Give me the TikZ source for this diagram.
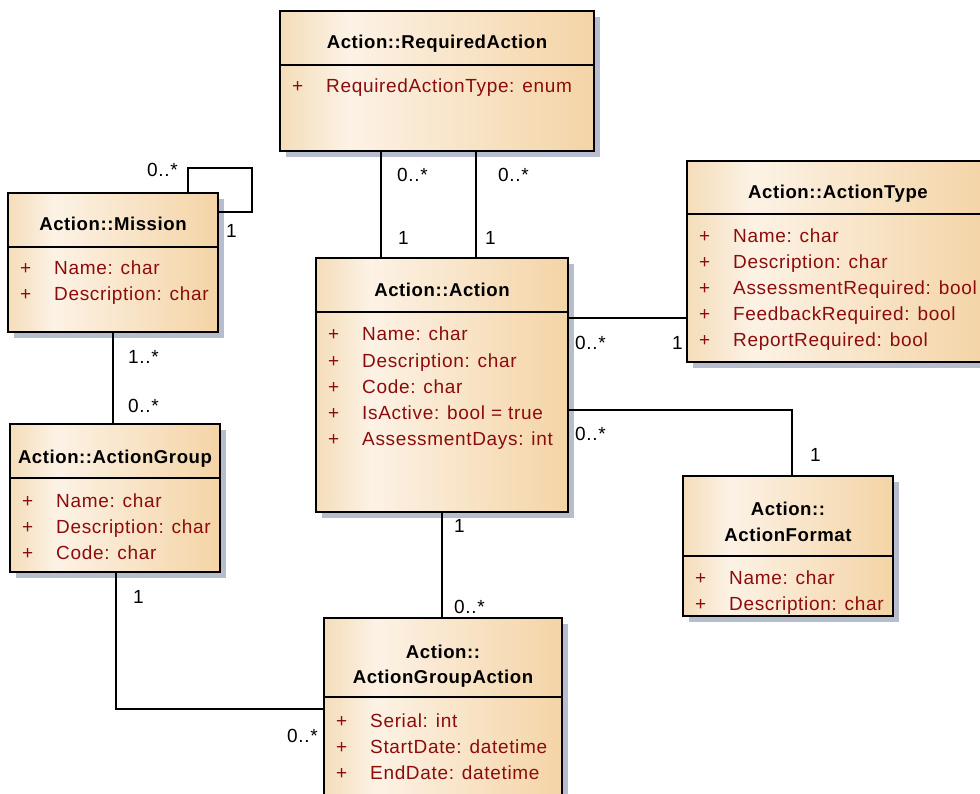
\documentclass[tikz,border=0pt]{standalone}
\usepackage{fontspec}
\setmainfont{Liberation Sans}
\newfontfamily\attrfont[LetterSpace=3.5]{Liberation Sans}
\newfontfamily\titlefont[LetterSpace=3]{Liberation Sans}

\definecolor{shadowc}{RGB}{184,189,206}
\definecolor{attrred}{RGB}{140,12,12}
\definecolor{fillL}{RGB}{244,221,186}
\definecolor{fillM}{RGB}{252,242,229}
\definecolor{fillR}{RGB}{244,212,166}
\pgfdeclarehorizontalshading{classshade}{100bp}{color(0bp)=(fillL); color(25bp)=(fillL); color(36bp)=(fillM); color(75bp)=(fillR); color(100bp)=(fillR)}

\tikzset{
  classbox/.style={draw=black, line width=1.8pt, shade, shading=classshade, rectangle, inner sep=0pt, outer sep=0pt},
  boxrule/.style={draw=black, line width=1.5pt},
  conn/.style={draw=black, line width=1.5pt},
  titletext/.style={anchor=base, inner sep=0pt, font=\titlefont\bfseries\fontsize{18.6}{22}\selectfont},
  plusmark/.style={anchor=base west, inner sep=0pt, text=attrred, font=\attrfont\fontsize{19}{22}\selectfont},
  attrtext/.style={anchor=base west, inner sep=0pt, text=attrred, font=\attrfont\fontsize{19}{22}\selectfont},
  mult/.style={anchor=base west, inner sep=1pt, fill=white, font=\attrfont\fontsize{19}{22}\selectfont},
}

% class box: name, left, top, right, bottom, header rule
\newcommand\umlclass[6]{%
  \fill[shadowc] ({#2+6},{#3+6}) rectangle ({#4+6},{#5+6});
  \node[classbox, anchor=north west, minimum width={(#4)-(#2)}, minimum height={(#5)-(#3)}] (#1) at (#2,#3) {};
  \draw[boxrule] (#2,#6) -- (#4,#6);
}
% title line: name, centre x, baseline, text
\newcommand\umltitle[4]{\node[titletext] (#1) at (#2,#3) {#4};}
% attribute line: name, box left, baseline, text
\newcommand\umlattr[4]{%
  \node[plusmark] (#1-vis) at ({#2+12},#3) {+};
  \node[attrtext] (#1) at ({#2+46},#3) {#4};
}

\begin{document}
\begin{tikzpicture}[x=1pt, y=-1pt]
\useasboundingbox (0,0) rectangle (980,794);
\clip (0,0) rectangle (980,794);
\fill[white] (0,0) rectangle (980,794);

% ---- classes ----
\umlclass{ra}{280}{11}{594}{151}{65}
\umltitle{ra-t}{437}{49}{Action::RequiredAction}
\umlattr{ra-a1}{280}{93}{RequiredActionType: enum}

\umlclass{mission}{8}{193}{218}{332}{247}
\umltitle{mission-t}{113}{231}{Action::Mission}
\umlattr{mission-a1}{8}{275}{Name: char}
\umlattr{mission-a2}{8}{301}{Description: char}

\umlclass{atype}{687}{161}{989}{362}{214}
\umltitle{atype-t}{838}{199}{Action::ActionType}
\umlattr{atype-a1}{687}{243}{Name: char}
\umlattr{atype-a2}{687}{269}{Description: char}
\umlattr{atype-a3}{687}{295}{AssessmentRequired: bool}
\umlattr{atype-a4}{687}{321}{FeedbackRequired: bool}
\umlattr{atype-a5}{687}{347}{ReportRequired: bool}

\umlclass{action}{316}{258}{568}{512}{312}
\umltitle{action-t}{442}{297}{Action::Action}
\umlattr{action-a1}{316}{341}{Name: char}
\umlattr{action-a2}{316}{367}{Description: char}
\umlattr{action-a3}{316}{393}{Code: char}
\umlattr{action-a4}{316}{419}{IsActive: bool = true}
\umlattr{action-a5}{316}{445}{AssessmentDays: int}

\umlclass{agroup}{10}{424}{220}{572}{478}
\umltitle{agroup-t}{115}{463}{Action::ActionGroup}
\umlattr{agroup-a1}{10}{507}{Name: char}
\umlattr{agroup-a2}{10}{533}{Description: char}
\umlattr{agroup-a3}{10}{559}{Code: char}

\umlclass{aformat}{683}{476}{893}{616}{556}
\umltitle{aformat-t1}{788}{515}{Action::}
\umltitle{aformat-t2}{788}{541}{ActionFormat}
\umlattr{aformat-a1}{683}{584}{Name: char}
\umlattr{aformat-a2}{683}{610}{Description: char}

\umlclass{aga}{324}{618}{562}{800}{697}
\umltitle{aga-t1}{443}{658}{Action::}
\umltitle{aga-t2}{443}{683}{ActionGroupAction}
\umlattr{aga-a1}{324}{727}{Serial: int}
\umlattr{aga-a2}{324}{753}{StartDate: datetime}
\umlattr{aga-a3}{324}{779}{EndDate: datetime}

% ---- associations ----
\draw[conn] (ra.south -| 381,0) -- (action.north -| 381,0);
\draw[conn] (ra.south -| 476,0) -- (action.north -| 476,0);
\coordinate (loop) at (252,168);
\draw[conn] (mission.north -| 188,0) |- (loop) |- (mission.east |- 0,212);
\draw[conn] (mission.south -| 113,0) -- (agroup.north -| 113,0);
\draw[conn] (action.east |- 0,318) -- (atype.west |- 0,318);
\draw[conn] (action.east |- 0,410) -| (aformat.north -| 792,0);
\draw[conn] (action.south -| 442,0) -- (aga.north -| 442,0);
\draw[conn] (agroup.south -| 116,0) |- (aga.west |- 0,709);

% ---- multiplicities ----
\node[mult] (m-ra1) at (396,182) {0..*};
\node[mult] (m-ra2) at (497,182) {0..*};
\node[mult] (m-ac1) at (397,245) {1};
\node[mult] (m-ac2) at (484,245) {1};
\node[mult] (m-mi1) at (146,177) {0..*};
\node[mult] (m-mi2) at (225,238) {1};
\node[mult] (m-mg1) at (127,363) {1..*};
\node[mult] (m-mg2) at (127,412) {0..*};
\node[mult] (m-at1) at (574,349) {0..*};
\node[mult] (m-at2) at (671,349) {1};
\node[mult] (m-af1) at (574,440) {0..*};
\node[mult] (m-af2) at (809,461) {1};
\node[mult] (m-ag1) at (453,532) {1};
\node[mult] (m-ag2) at (453,613) {0..*};
\node[mult] (m-gg1) at (132,603) {1};
\node[mult] (m-gg2) at (286,742) {0..*};
\end{tikzpicture}
\end{document}
